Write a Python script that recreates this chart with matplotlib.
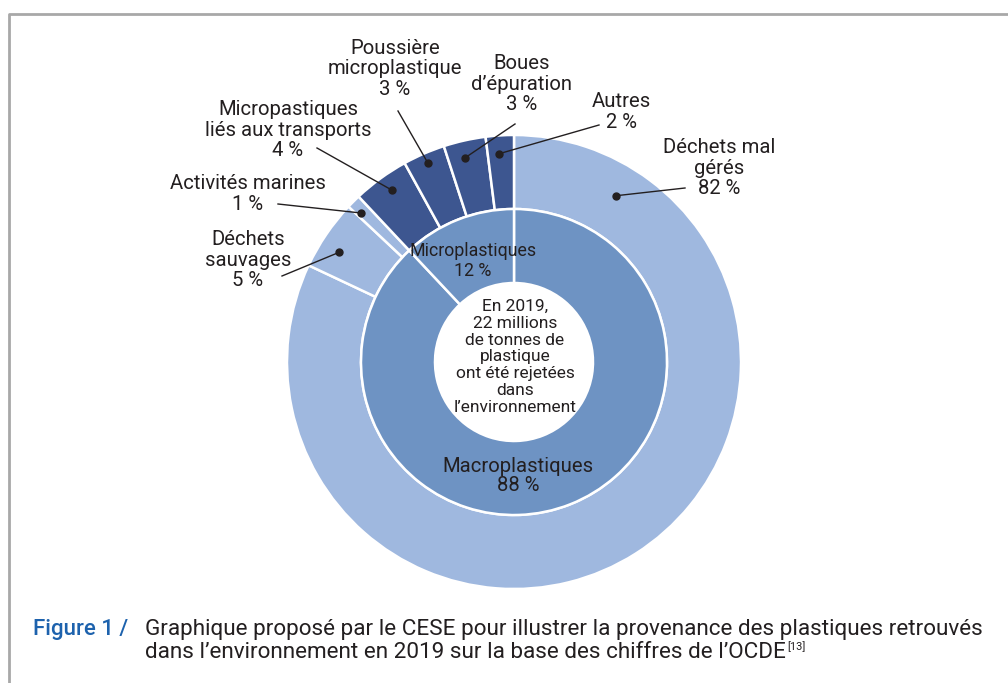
import matplotlib
matplotlib.use('Agg')
import matplotlib.pyplot as plt
import numpy as np

# outer ring: sources (clockwise from 12 o'clock)
outer_labels = ["Déchets mal\ngérés\n82 %", "Déchets\nsauvages\n5 %", "Activités marines\n1 %",
                "Micropastiques\nliés aux transports\n4 %", "Poussière\nmicroplastique\n3 %",
                "Boues\nd’épuration\n3 %", "Autres\n2 %"]
outer_values = [82, 5, 1, 4, 3, 3, 2]
# inner ring: macro / micro
inner_labels = ["Macroplastiques\n88 %", "Microplastiques\n12 %"]
inner_values = [88, 12]

center_text = "En 2019,\n22 millions\nde tonnes de\nplastique\nont été rejetées\ndans\nl’environnement"
caption_head = "Figure 1 /"
caption_line1 = "Graphique proposé par le CESE pour illustrer la provenance des plastiques retrouvés"
caption_line2 = "dans l’environnement en 2019 sur la base des chiffres de l’OCDE"
caption_ref = "[13]"

LIGHT = "#9fb8df"
MID = "#6e93c3"
DARK = "#3d5690"
TXT = "#231f20"
BLUE = "#1d62ad"

plt.rcParams['font.family'] = ['Roboto', 'DejaVu Sans']

W, H = 1008, 683
fig = plt.figure(figsize=(W / 100, H / 100), dpi=100)
ax = fig.add_axes([0, 0, 1, 1])

def Y(py):
    return H - py

cx, cy = 514, Y(362)
R_out, R_mid, R_in = 227, 153, 79

outer_colors = [LIGHT, LIGHT, LIGHT, DARK, DARK, DARK, DARK]
wedges_out, _ = ax.pie(outer_values, radius=R_out, center=(cx, cy), startangle=90,
                       counterclock=False, colors=outer_colors,
                       wedgeprops=dict(width=R_out - R_mid, edgecolor='white', linewidth=1.8))
wedges_in, _ = ax.pie(inner_values, radius=R_mid, center=(cx, cy), startangle=90,
                      counterclock=False, colors=[MID, MID],
                      wedgeprops=dict(width=R_mid - R_in, edgecolor='white', linewidth=1.8))
ax.set_xlim(0, W)
ax.set_ylim(0, H)
ax.set_aspect('equal')
ax.axis('off')

# label placement (pixel coords): text center, line end, fraction along wedge (clockwise) for the dot
text_pos = [(719, 168), (248, 260), (248, 194), (288, 130), (395, 69), (522, 84), (621, 112)]
line_end = [(685, 188), (282, 276), (278, 204), (317, 148), (398, 111), (515, 124), (599, 125)]
dot_frac = [0.107, 0.38, 0.3, 0.54, 0.5, 0.42, 0.44]
dot_rad = [0.86, 0.91, 0.94, 0.93, 0.955, 0.925, 0.92]

for w, lab, tp, le, fr, rr in zip(wedges_out, outer_labels, text_pos, line_end, dot_frac, dot_rad):
    ang = np.deg2rad(w.theta2 - (w.theta2 - w.theta1) * fr)
    r = R_out * rr
    dx, dy = cx + r * np.cos(ang), cy + r * np.sin(ang)
    ax.plot([dx, le[0]], [dy, Y(le[1])], color=TXT, lw=1.0, zorder=5)
    ax.plot(dx, dy, 'o', color=TXT, ms=5, zorder=6)
    ax.text(tp[0], Y(tp[1]), lab, ha='center', va='center', fontsize=14.6,
            color=TXT, linespacing=1.1)

ax.text(473, Y(261), inner_labels[1], ha='center', va='center', fontsize=12.8,
        color=TXT, linespacing=1.2, zorder=7)
ax.text(518, Y(476), inner_labels[0], ha='center', va='center', fontsize=14.6,
        color=TXT, linespacing=1.05)
ax.text(515, Y(357), center_text, ha='center', va='center', fontsize=12.5,
        color=TXT, linespacing=1.15)

# frame
ax.plot([8.5, 8.5, W], [0, Y(14), Y(14)], color="#a8a8a8", lw=2, clip_on=False)

# caption
ax.text(33, Y(630), caption_head, ha='left', va='center', fontsize=16, color=BLUE,
        fontweight='medium')
ax.text(145, Y(630), caption_line1, ha='left', va='center', fontsize=16.2, color=TXT)
last = ax.text(145, Y(652), caption_line2, ha='left', va='center', fontsize=16.2, color=TXT)
fig.canvas.draw()
bb2 = last.get_window_extent(fig.canvas.get_renderer())
ax.text(bb2.x1 + 1, Y(647), caption_ref, ha='left', va='center', fontsize=8, color=TXT)

fig.savefig("out.png", dpi=100, facecolor='white')
